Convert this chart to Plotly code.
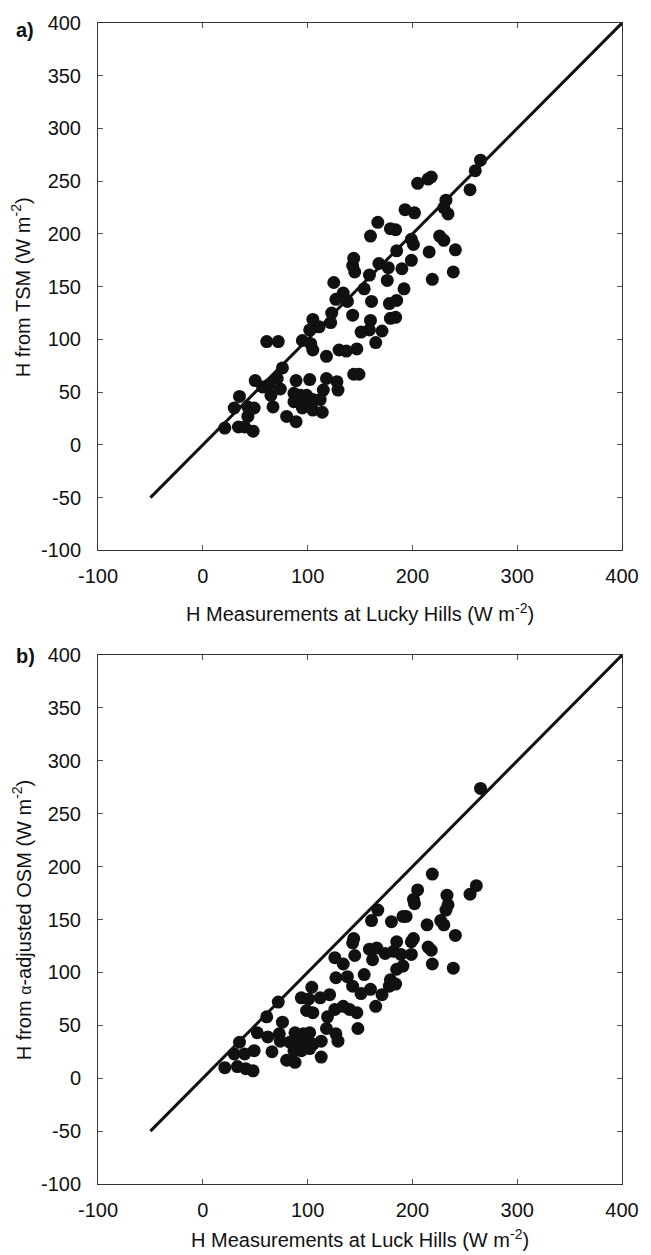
import plotly.graph_objects as go

# Panel a: H from TSM vs measured H at Lucky Hills (W m-2)
tsm_x = [265, 260, 255, 205, 215, 218, 232, 234, 230, 193, 202, 184, 199, 201, 226, 230, 185, 216, 241, 190,
         199, 192, 185, 219, 239, 184,
         167, 179, 160, 144, 143, 145, 168, 177, 159, 176, 125, 154, 134, 127, 138, 161, 178, 123, 143, 160,
         179, 105, 122, 111, 102, 159, 151, 171, 61, 72, 95, 103, 130, 137, 147, 165, 118, 105,
         76, 144, 149, 50, 71, 89, 102, 118, 128, 57, 63, 74, 35, 87, 93, 99, 115, 129, 65, 87, 96, 105, 112,
         30, 43, 49, 67, 95, 105, 114, 43, 80, 89, 21, 34, 40, 48]
tsm_y = [270, 260, 242, 248, 252, 254, 232, 219, 225, 223, 220, 204, 195, 190, 198, 194, 184, 183, 185, 167,
         175, 148, 137, 157, 164, 121,
         211, 205, 198, 177, 170, 164, 172, 168, 161, 156, 154, 148, 144, 138, 136, 136, 134, 125, 123, 118,
         120, 119, 116, 112, 109, 109, 107, 108, 98, 98, 99, 96, 90, 89, 91, 97, 84, 90,
         73, 67, 67, 61, 63, 61, 62, 63, 60, 55, 57, 53, 46, 49, 47, 47, 52, 52, 47, 41, 41, 43, 43,
         35, 36, 35, 36, 35, 33, 31, 27, 27, 22, 16, 17, 17, 13]

# Panel b: H from alpha-adjusted OSM vs measured H at Luck Hills (W m-2)
osm_x = [167, 161, 180, 191, 144, 143, 126, 134, 145, 159, 166, 174, 182, 185, 162, 189, 154, 138, 127, 143,
         151, 160, 171, 179, 178, 185, 191, 104, 94, 101, 112, 121, 99, 105, 119, 126, 134, 140, 147, 165,
         148, 72, 61, 76, 52, 62, 73, 74, 88, 96, 102, 118, 127, 129, 83, 91, 99, 105, 113, 87, 94, 102,
         35, 30, 40, 49, 66, 80, 88, 113, 21, 33, 41, 48,
         265, 219, 205, 201, 202, 233, 234, 232, 255, 261, 194, 214, 227, 230, 241, 201, 199, 199, 215, 218,
         219, 239, 184]
osm_y = [159, 149, 148, 153, 132, 128, 114, 108, 116, 122, 123, 118, 120, 129, 112, 117, 98, 96, 95, 87,
         80, 84, 79, 93, 87, 103, 106, 86, 76, 75, 76, 79, 64, 62, 58, 65, 68, 65, 62, 68,
         47, 72, 58, 53, 43, 39, 42, 35, 43, 42, 43, 47, 42, 35, 34, 32, 35, 32, 35, 26, 26, 28,
         34, 23, 23, 26, 25, 17, 15, 20, 10, 11, 9, 7,
         274, 193, 178, 169, 165, 173, 164, 159, 174, 182, 153, 145, 149, 145, 135, 132, 129, 117, 124, 121,
         108, 104, 89]

# 1:1 line
line_x = [-50, 400]
line_y = [-50, 400]

x_tick_vals = [-100, 0, 100, 200, 300, 400]
x_tick_text = ["-100", "0", "100", "200", "300", "400"]
y_tick_vals = [-100, -50, 0, 50, 100, 150, 200, 250, 300, 350, 400]
y_tick_text = ["-100", "-50", "0", "50", "100", "150", "200", "250", "300", "350", "400"]

FONT = "Liberation Sans, Arial, sans-serif"
W, H = 651, 1255
L, R, T, B = 98, 20, 14, 71
PW = W - L - R
PH = H - T - B


def px(xp):
    return (xp - L) / PW


def py(yp):
    return (H - B - yp) / PH


fig = go.Figure()
marker = dict(size=13, color="#111111", line=dict(width=0))
fig.add_trace(go.Scatter(x=line_x, y=line_y, mode="lines", line=dict(color="#111111", width=3),
                         xaxis="x", yaxis="y", showlegend=False))
fig.add_trace(go.Scatter(x=tsm_x, y=tsm_y, mode="markers", marker=marker,
                         xaxis="x", yaxis="y", showlegend=False))
fig.add_trace(go.Scatter(x=line_x, y=line_y, mode="lines", line=dict(color="#111111", width=3),
                         xaxis="x2", yaxis="y2", showlegend=False))
fig.add_trace(go.Scatter(x=osm_x, y=osm_y, mode="markers", marker=marker,
                         xaxis="x2", yaxis="y2", showlegend=False))

ax_common = dict(showgrid=False, zeroline=False, showline=True, linecolor="#333333", linewidth=1,
                 mirror="ticks", ticks="inside", ticklen=5, tickcolor="#555555", tickwidth=1,
                 tickfont=dict(family=FONT, size=20, color="#111111"))
xax = dict(range=[-100, 400], tickvals=x_tick_vals, ticktext=x_tick_text, domain=[0, 1],
           ticklabelstandoff=8, **ax_common)
yax = dict(range=[-100, 400], tickvals=y_tick_vals, ticktext=y_tick_text,
           ticklabelstandoff=12, **ax_common)

top_dom = [py(545.5), 1.0]
bot_dom = [0.0, py(651)]

fig.update_layout(
    width=W, height=H,
    margin=dict(l=L, r=R, t=T, b=B),
    paper_bgcolor="white", plot_bgcolor="white",
    font=dict(family=FONT, size=20, color="#111111"),
    xaxis=dict(anchor="y", **xax),
    yaxis=dict(domain=top_dom, anchor="x", **yax),
    xaxis2=dict(anchor="y2", **xax),
    yaxis2=dict(domain=bot_dom, anchor="x2", **yax),
)

ann = []
ann.append(dict(text="<b>a)</b>", x=px(24), y=py(21), xref="paper", yref="paper",
                showarrow=False, font=dict(size=20), xanchor="center", yanchor="middle"))
ann.append(dict(text="<b>b)</b>", x=px(24), y=py(652), xref="paper", yref="paper",
                showarrow=False, font=dict(size=20), xanchor="center", yanchor="middle"))
ann.append(dict(text="H Measurements at Lucky Hills (W m<sup>-2</sup>)", x=px(364), y=py(608),
                xref="paper", yref="paper", showarrow=False, font=dict(size=20),
                xanchor="center", yanchor="middle"))
ann.append(dict(text="H Measurements at Luck Hills (W m<sup>-2</sup>)", x=px(364), y=py(1239),
                xref="paper", yref="paper", showarrow=False, font=dict(size=20),
                xanchor="center", yanchor="middle"))
ann.append(dict(text="H from TSM (W m<sup>-2</sup>)", x=px(20), y=py(280), xref="paper", yref="paper",
                showarrow=False, textangle=-90, font=dict(size=20), xanchor="center", yanchor="middle"))
ann.append(dict(text="H from <span style='font-size:16px'>α</span>-adjusted OSM (W m<sup>-2</sup>)",
                x=px(20), y=py(918), xref="paper", yref="paper", showarrow=False, textangle=-90,
                font=dict(size=20), xanchor="center", yanchor="middle"))
fig.update_layout(annotations=ann)

fig.write_html("out.html", config={"displayModeBar": False},
               post_script="document.body.style.margin='0';document.body.style.overflow='hidden';")
